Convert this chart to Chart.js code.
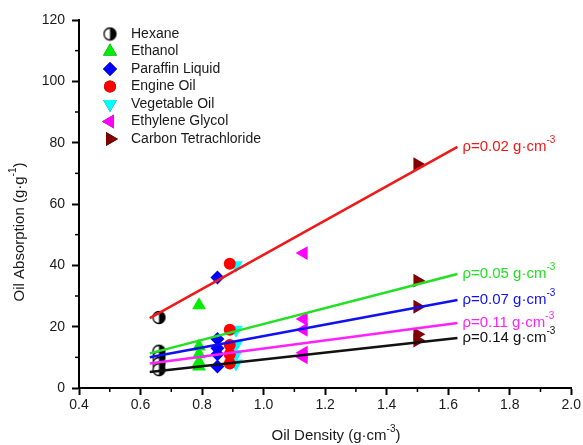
<!DOCTYPE html>
<html>
<head>
<meta charset="utf-8">
<script src="https://cdn.jsdelivr.net/npm/chart.js@4.4.0/dist/chart.umd.min.js"></script>
<style>
  html, body { margin: 0; padding: 0; background: #fff; }
  #wrap { width: 583px; height: 445px; }
</style>
</head>
<body>
<div id="wrap"><canvas id="chart"></canvas></div>
<script>
// solvents and their densities (x axis)
const solvents = ['Hexane', 'Ethanol', 'Paraffin Liquid', 'Engine Oil', 'Vegetable Oil', 'Ethylene Glycol', 'Carbon Tetrachloride'];
const densities = [0.66, 0.79, 0.85, 0.89, 0.91, 1.13, 1.50];

// absorption per solvent, for sponge densities 0.02 / 0.05 / 0.07 / 0.11 / 0.14
const hexane = [23, 12, 10, 8, 6];
const ethanol = [27, 13.5, 11, 8.5, 7];
const paraffin = [36, 16, 13, 11, 7];
const engineOil = [40.5, 19, 14, 11, 8];
const vegOil = [40, 19, 14, 11, 8];
const glycol = [44, 22.5, 19, 11.5, 10];
const ccl4 = [73, 35, 26.5, 17.5, 15.5];
const absorption = [hexane, ethanol, paraffin, engineOil, vegOil, glycol, ccl4];

// linear fits, start / end
const fitX = [0.63, 1.63];
const fit002 = [22.8, 78.6];
const fit005 = [11.3, 37.2];
const fit007 = [10.0, 28.7];
const fit011 = [8.0, 21.2];
const fit014 = [5.2, 16.3];
const fits = [fit002, fit005, fit007, fit011, fit014];
const fitLabels = ['ρ=0.02 g·cm', 'ρ=0.05 g·cm', 'ρ=0.07 g·cm', 'ρ=0.11 g·cm', 'ρ=0.14 g·cm'];

const xTicks = { min: 0.4, max: 2.0, step: 0.2 };
const yTicks = { min: 0, max: 120, step: 20 };

const FONT = '"Liberation Sans", Arial, sans-serif';
const fitColors = ['#f01818', '#22e022', '#1010f0', '#ff22ff', '#111111'];

// half filled circle for hexane
function halfCircle() {
    const c = document.createElement('canvas');
    c.width = 15; c.height = 15;
    const g = c.getContext('2d');
    g.beginPath();
    g.arc(7.5, 7.5, 6, 0, Math.PI * 2);
    g.fillStyle = '#fff';
    g.fill();
    g.beginPath();
    g.arc(7.5, 7.5, 6, -Math.PI / 2, Math.PI / 2);
    g.closePath();
    g.fillStyle = '#000';
    g.fill();
    g.beginPath();
    g.arc(7.5, 7.5, 6, 0, Math.PI * 2);
    g.lineWidth = 1.3;
    g.strokeStyle = '#000';
    g.stroke();
    return c;
}

const markerStyles = [
    { pointStyle: halfCircle(), color: '#000', rot: 0, r: 7 },
    { pointStyle: 'triangle', color: '#00ee00', rot: 0, r: 8 },
    { pointStyle: 'rectRot', color: '#0000ff', rot: 0, r: 7 },
    { pointStyle: 'circle', color: '#ff0000', rot: 0, r: 6 },
    { pointStyle: 'triangle', color: '#00ffff', rot: 180, r: 8 },
    { pointStyle: 'triangle', color: '#ff00ff', rot: 270, r: 8 },
    { pointStyle: 'triangle', color: '#800000', rot: 90, r: 8 }
];

const datasets = [];
fits.forEach((f, i) => {
    datasets.push({
        type: 'line',
        label: fitLabels[i],
        data: fitX.map((x, k) => ({ x, y: f[k] })),
        borderColor: fitColors[i],
        borderWidth: 2.5,
        pointRadius: 0,
        fill: false,
        order: 0,
        isFit: true
    });
});
solvents.forEach((name, i) => {
    const m = markerStyles[i];
    datasets.push({
        type: 'scatter',
        label: name,
        data: absorption[i].map(v => ({ x: densities[i], y: v })),
        pointStyle: m.pointStyle,
        pointRotation: m.rot,
        pointRadius: m.r,
        pointHoverRadius: m.r,
        backgroundColor: m.color,
        borderColor: m.color,
        borderWidth: 0,
        order: 1
    });
});

// text with a superscript, optional tail after it
function drawSup(ctx, base, sup, tail, x, y, size, align) {
    const small = Math.round(size * 0.65);
    ctx.font = size + 'px ' + FONT;
    const wb = ctx.measureText(base).width;
    const wt = ctx.measureText(tail).width;
    ctx.font = small + 'px ' + FONT;
    const ws = ctx.measureText(sup).width;
    let start = x;
    if (align === 'center') start = x - (wb + ws + wt) / 2;
    ctx.textAlign = 'left';
    ctx.textBaseline = 'middle';
    ctx.font = size + 'px ' + FONT;
    ctx.fillText(base, start, y);
    ctx.fillText(tail, start + wb + ws, y);
    ctx.font = small + 'px ' + FONT;
    ctx.fillText(sup, start + wb, y - size * 0.42);
}

const extras = {
    id: 'extras',
    afterDraw(chart) {
        const ctx = chart.ctx;
        const xs = chart.scales.x, ys = chart.scales.y;
        const area = chart.chartArea;
        ctx.save();

        // minor ticks between the major ones
        ctx.strokeStyle = '#000';
        ctx.lineWidth = 1.5;
        const xt = xs.ticks;
        for (let i = 0; i < xt.length - 1; i++) {
            const px = xs.getPixelForValue((xt[i].value + xt[i + 1].value) / 2);
            ctx.beginPath(); ctx.moveTo(px, area.bottom); ctx.lineTo(px, area.bottom + 4); ctx.stroke();
        }
        const yt = ys.ticks;
        for (let i = 0; i < yt.length - 1; i++) {
            const py = ys.getPixelForValue((yt[i].value + yt[i + 1].value) / 2);
            ctx.beginPath(); ctx.moveTo(area.left, py); ctx.lineTo(area.left - 4, py); ctx.stroke();
        }

        // labels at the end of each fit line
        chart.data.datasets.forEach((ds, i) => {
            if (!ds.isFit) return;
            const pts = chart.getDatasetMeta(i).data;
            const end = pts[pts.length - 1];
            ctx.fillStyle = ds.borderColor;
            drawSup(ctx, ds.label, '-3', '', end.x + 5, end.y, 15, 'left');
        });

        // legend inside the plot
        let row = 0;
        chart.data.datasets.forEach((ds) => {
            if (ds.isFit) return;
            const y = area.top + 14 + row * 17.5;
            Chart.helpers.drawPoint(ctx, {
                pointStyle: ds.pointStyle,
                rotation: ds.pointRotation,
                radius: ds.pointRadius,
                borderWidth: 0
            }, area.left + 31, y);
            ctx.fillStyle = ds.backgroundColor;
            ctx.fill();
            ctx.fillStyle = '#1a1a1a';
            ctx.font = '14px ' + FONT;
            ctx.textAlign = 'left';
            ctx.textBaseline = 'middle';
            ctx.fillText(ds.label, area.left + 52, y);
            row++;
        });

        // axis titles
        ctx.fillStyle = '#1a1a1a';
        drawSup(ctx, 'Oil Density (g·cm', '-3', ')', 336, 436, 15, 'center');
        ctx.restore();

        ctx.save();
        ctx.fillStyle = '#1a1a1a';
        ctx.translate(20, 232);
        ctx.rotate(-Math.PI / 2);
        drawSup(ctx, 'Oil Absorption (g·g', '-1', ')', 0, 0, 15, 'center');
        ctx.restore();
    }
};

new Chart(document.getElementById('chart'), {
    type: 'scatter',
    data: { datasets },
    options: {
        responsive: true,
        maintainAspectRatio: false,
        animation: false,
        layout: { padding: { top: 20, right: 11, left: 0, bottom: 0 } },
        plugins: { legend: { display: false }, tooltip: { enabled: false } },
        scales: {
            x: {
                type: 'linear',
                min: xTicks.min, max: xTicks.max,
                afterFit(s) { s.height = 57; },
                border: { display: true, color: '#000', width: 2 },
                grid: { display: true, drawOnChartArea: false, drawTicks: true, tickLength: 7, tickColor: '#000', tickWidth: 2 },
                ticks: {
                    stepSize: xTicks.step, padding: 2, color: '#1a1a1a',
                    font: { family: FONT, size: 14 },
                    callback: v => v.toFixed(1)
                }
            },
            y: {
                type: 'linear',
                min: yTicks.min, max: yTicks.max,
                afterFit(s) { s.width = 79; },
                border: { display: true, color: '#000', width: 2 },
                grid: { display: true, drawOnChartArea: false, drawTicks: true, tickLength: 7, tickColor: '#000', tickWidth: 2 },
                ticks: {
                    stepSize: yTicks.step, padding: 7, color: '#1a1a1a',
                    font: { family: FONT, size: 14 }
                }
            }
        }
    },
    plugins: [extras]
});
</script>
</body>
</html>
